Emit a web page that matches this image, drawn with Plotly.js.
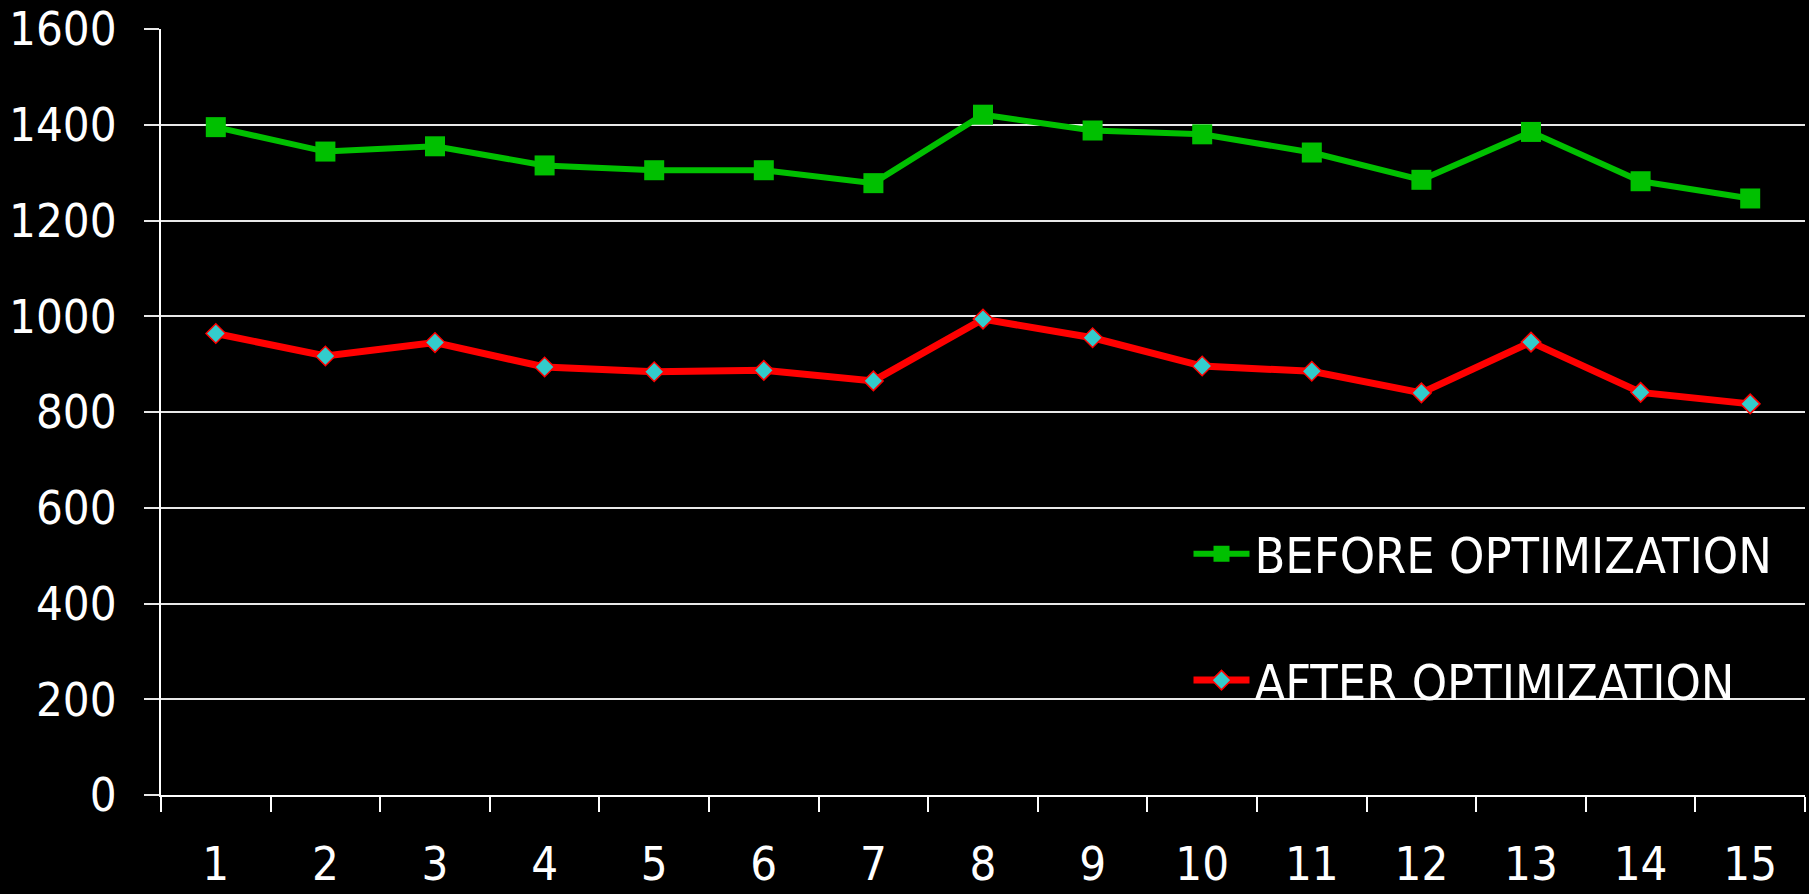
<!DOCTYPE html>
<html>
<head>
<meta charset="utf-8">
<script src="https://cdn.plot.ly/plotly-3.0.1.min.js"></script>
<style>html,body{margin:0;padding:0;background:#000;}#chart{width:1809px;height:894px;}</style>
</head>
<body>
<div id="chart"></div>
<script>
const categories = ["1","2","3","4","5","6","7","8","9","10","11","12","13","14","15"];
const beforeOptimization = [1395,1344,1355,1315,1305,1305,1278,1421,1388,1380,1342,1285,1385,1282,1246];
const afterOptimization = [964,917,945,894,884,887,865,994,955,896,885,840,946,841,817];
const seriesNames = ["BEFORE OPTIMIZATION","AFTER OPTIMIZATION"];
const yTicks = [0,200,400,600,800,1000,1200,1400,1600];

const FONT = "DejaVu Sans Condensed, DejaVu Sans, sans-serif";

const traces = [
  {
    x: categories, y: beforeOptimization, name: seriesNames[0], type: "scatter", mode: "lines+markers",
    line: {color: "#00c000", width: 6},
    marker: {symbol: "square", size: 20, color: "#00c000", line: {width: 0}},
    legend: "legend"
  },
  {
    x: categories, y: afterOptimization, name: seriesNames[1], type: "scatter", mode: "lines+markers",
    line: {color: "#ff0000", width: 7},
    marker: {symbol: "diamond", size: 15, color: "#33cccc", line: {color: "#ff0000", width: 1.5}},
    legend: "legend2"
  }
];

const legendCommon = {
  font: {family: FONT, size: 50, color: "#ffffff"},
  bgcolor: "rgba(0,0,0,0)",
  xref: "paper", yref: "paper",
  xanchor: "left", yanchor: "middle",
  itemwidth: 56
};

const layout = {
  width: 1809, height: 894,
  paper_bgcolor: "#000000", plot_bgcolor: "#000000",
  margin: {l: 161, r: 4, t: 29, b: 99},
  font: {family: FONT, color: "#ffffff"},
  xaxis: {
    type: "category",
    range: [-0.5, 14.5],
    showgrid: false,
    showline: true, linecolor: "#ffffff", linewidth: 2,
    ticks: "outside", tickson: "boundaries", ticklen: 15, tickwidth: 2, tickcolor: "#ffffff",
    tickfont: {family: FONT, size: 47, color: "#ffffff"},
    ticklabelstandoff: 27,
    zeroline: false, fixedrange: true
  },
  yaxis: {
    range: [0, 1600],
    tickvals: yTicks,
    showgrid: true, gridcolor: "#e8e8e8", gridwidth: 2,
    showline: true, linecolor: "#ffffff", linewidth: 2,
    ticks: "outside", ticklen: 15, tickwidth: 2, tickcolor: "#e8e8e8",
    tickfont: {family: FONT, size: 47, color: "#ffffff"},
    ticklabelstandoff: 18,
    zeroline: false, fixedrange: true
  },
  showlegend: true,
  legend: Object.assign({}, legendCommon, {x: 0.625, y: 0.315}),
  legend2: Object.assign({}, legendCommon, {x: 0.625, y: 0.150})
};

Plotly.newPlot("chart", traces, layout, {displayModeBar: false, staticPlot: true});
</script>
</body>
</html>
